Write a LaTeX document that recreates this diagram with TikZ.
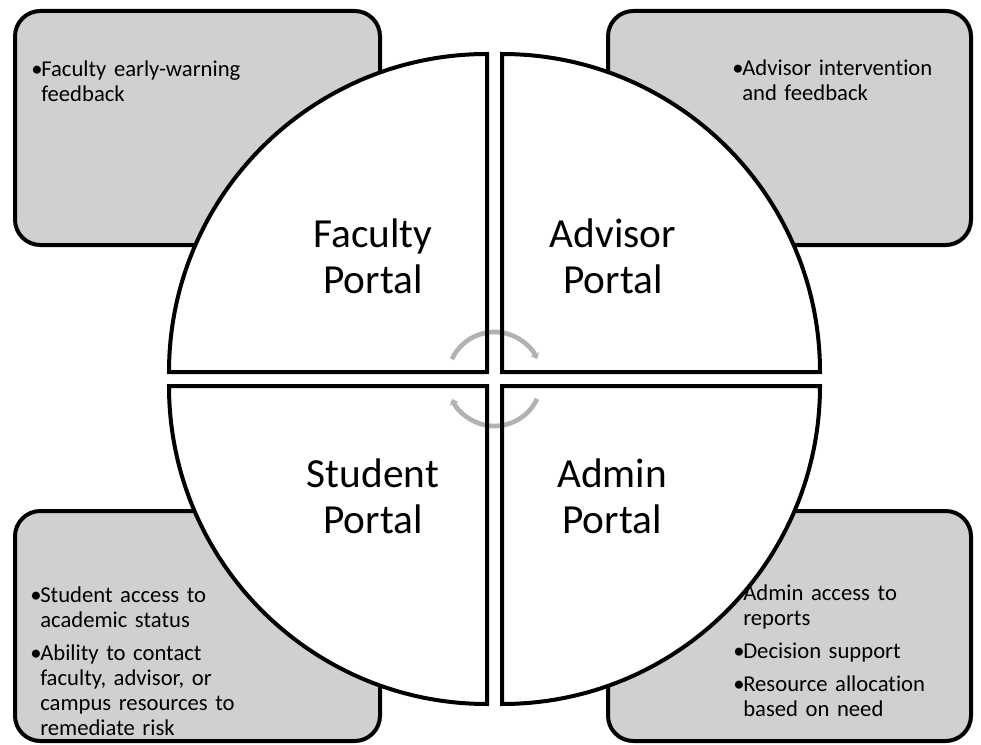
\documentclass[tikz,border=0pt]{standalone}
\usepackage{fontspec}
\setmainfont{Carlito}[Ligatures=NoCommon]
\usepackage{tikz}
\usetikzlibrary{arrows.meta}
\definecolor{boxgray}{RGB}{208,208,208}
\definecolor{arcgray}{RGB}{178,178,178}
\tikzset{>=latex}
\tikzstyle{info} = [draw=black, line width=3pt, fill=boxgray, rounded corners=19pt]
\tikzstyle{piece} = [draw=black, line width=3pt]
\tikzstyle{portal} = [inner sep=0, text width=170pt, align=center, anchor=base, font=\fontsize{31}{34.5}\selectfont]
\tikzstyle{bullets} = [inner sep=0, text width=190pt, align=left, anchor=base west, font=\fontsize{17}{18.75}\selectfont]
\tikzstyle{turn} = [line width=3.5pt, arcgray, -{Triangle[length=4pt, width=6.5pt]}]
\newcommand{\bulpt}{\makebox[7.5pt][l]{\textbullet}}
\newcommand{\bulsp}{\hspace*{7.5pt}}

\begin{document}
\begin{tikzpicture}[x=0.75pt, y=0.75pt]
\useasboundingbox (0,0) rectangle (981,744);
% side boxes
\draw [info] (15,499) rectangle (380,733);
\draw [info] (608,499) rectangle (971,733);
\draw [info] (15,3) rectangle (380,233);
\draw [info] (608,3) rectangle (971,233);
\node [bullets] (FT) at (31,667) {\bulpt Faculty early-warning\\\bulsp feedback};
\node [bullets] (AT) at (732,668) {\bulpt Advisor intervention\\\bulsp and feedback};
\node [bullets] (ST) at (30,142) {\bulpt Student access to\\\bulsp academic status\\[6pt]\bulpt Ability to contact\\\bulsp faculty, advisor, or\\\bulsp campus resources to\\\bulsp remediate risk};
\node [bullets] (MT) at (733,144) {\bulpt Admin access to\\\bulsp reports\\[6pt]\bulpt Decision support\\[6pt]\bulpt Resource allocation\\\bulsp based on need};
% quarters of the circle
\foreach \cx/\cy/\a/\b in {487/372/180/90, 502/372/90/0, 487/358/180/270, 502/358/0/-90}
  \fill [white] (\cx,\cy) -- ++(\a:318) arc[start angle=\a, end angle=\b, radius=318] -- cycle;
\coordinate (O) at (494.5,365);
\draw [turn] (O) ++(155:47) arc[start angle=155, end angle=25, radius=47];
\draw [turn] (O) ++(-25:47) arc[start angle=-25, end angle=-155, radius=47];
\foreach \cx/\cy/\a/\b in {487/372/180/90, 502/372/90/0, 487/358/180/270, 502/358/0/-90}
  \draw [piece] (\cx,\cy) -- ++(\a:318) arc[start angle=\a, end angle=\b, radius=318] -- cycle;
\node [portal] (F) at (373,497) {Faculty\\Portal};
\node [portal] (Adv) at (613,497) {Advisor\\Portal};
\node [portal] (S) at (373,257) {Student\\Portal};
\node [portal] (Adm) at (612,257) {Admin\\Portal};
\end{tikzpicture}
\end{document}
